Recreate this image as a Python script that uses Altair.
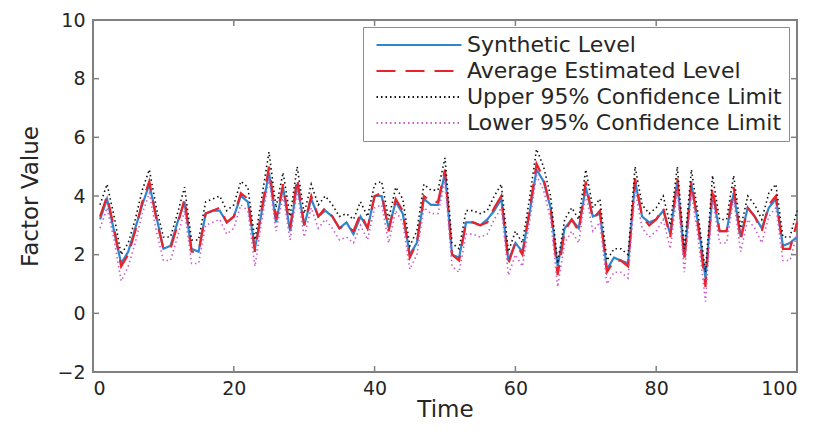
import altair as alt
import pandas as pd

time = list(range(1, 101))

synthetic = [3.2, 3.9, 2.8, 1.7, 2.1, 2.9, 3.7, 4.4, 3.3, 2.2,
             2.3, 3.1, 3.8, 2.2, 2.1, 3.4, 3.5, 3.5, 3.1, 3.3,
             4.0, 3.8, 2.2, 3.5, 4.8, 3.1, 4.3, 2.8, 4.4, 3.0,
             3.9, 3.3, 3.5, 3.3, 2.9, 3.1, 2.7, 3.3, 2.9, 4.0,
             4.0, 2.9, 3.8, 3.4, 2.0, 2.4, 3.9, 3.7, 3.7, 4.8,
             2.0, 1.9, 3.1, 3.1, 3.0, 3.2, 3.5, 3.9, 1.8, 2.4,
             2.1, 3.4, 4.9, 4.5, 3.6, 1.6, 2.9, 3.2, 2.9, 4.3,
             3.3, 3.4, 1.5, 1.9, 1.8, 1.7, 4.5, 3.3, 3.1, 3.2,
             3.5, 2.7, 4.5, 1.9, 4.4, 3.0, 1.2, 4.1, 2.8, 2.8,
             4.1, 2.6, 3.6, 3.3, 2.9, 3.6, 3.9, 2.3, 2.4, 2.6]

estimated = [3.3, 4.0, 2.9, 1.6, 2.0, 2.8, 3.8, 4.5, 3.2, 2.2,
             2.2, 3.0, 3.9, 2.1, 2.1, 3.4, 3.5, 3.6, 3.1, 3.3,
             4.1, 3.9, 2.1, 3.6, 5.0, 3.2, 4.4, 2.9, 4.6, 3.0,
             4.0, 3.3, 3.6, 3.3, 2.9, 3.0, 2.8, 3.4, 2.9, 4.0,
             4.1, 2.8, 3.9, 3.5, 1.9, 2.4, 4.0, 3.8, 3.8, 4.9,
             2.0, 1.8, 3.1, 3.1, 3.0, 3.1, 3.6, 4.0, 1.7, 2.4,
             2.0, 3.5, 5.1, 4.6, 3.6, 1.3, 2.8, 3.2, 2.8, 4.5,
             3.2, 3.5, 1.4, 1.8, 1.8, 1.6, 4.6, 3.3, 3.0, 3.2,
             3.6, 2.6, 4.6, 1.8, 4.5, 2.9, 0.9, 4.3, 2.8, 2.8,
             4.3, 2.5, 3.6, 3.3, 2.8, 3.7, 4.0, 2.2, 2.2, 3.1]

upper = [3.7, 4.4, 3.3, 2.0, 2.4, 3.2, 4.2, 4.9, 3.6, 2.6,
         2.6, 3.4, 4.3, 2.5, 2.5, 3.8, 3.9, 4.0, 3.5, 3.7,
         4.5, 4.3, 2.5, 4.0, 5.5, 3.6, 4.8, 3.3, 5.0, 3.4,
         4.4, 3.7, 4.0, 3.7, 3.3, 3.4, 3.2, 3.8, 3.3, 4.4,
         4.5, 3.2, 4.3, 3.9, 2.3, 2.8, 4.4, 4.2, 4.2, 5.3,
         2.4, 2.2, 3.5, 3.5, 3.4, 3.5, 4.0, 4.4, 2.1, 2.8,
         2.4, 3.9, 5.6, 5.0, 4.0, 1.7, 3.2, 3.6, 3.2, 4.9,
         3.6, 3.9, 1.8, 2.2, 2.2, 2.0, 5.0, 3.7, 3.4, 3.6,
         4.0, 3.0, 5.0, 2.2, 4.9, 3.3, 1.4, 4.7, 3.2, 3.2,
         4.7, 2.9, 4.0, 3.7, 3.2, 4.1, 4.4, 2.6, 2.6, 3.5]

lower = [2.9, 3.6, 2.5, 1.1, 1.6, 2.4, 3.4, 4.1, 2.8, 1.8,
         1.8, 2.6, 3.5, 1.7, 1.7, 3.0, 3.1, 3.2, 2.7, 2.9,
         3.7, 3.5, 1.6, 3.2, 4.6, 2.8, 4.0, 2.5, 4.2, 2.6,
         3.6, 2.9, 3.2, 2.9, 2.5, 2.6, 2.4, 3.0, 2.5, 3.6,
         3.7, 2.4, 3.5, 3.1, 1.5, 2.0, 3.6, 3.4, 3.4, 4.5,
         1.6, 1.4, 2.7, 2.7, 2.6, 2.7, 3.2, 3.6, 1.3, 2.0,
         1.6, 3.1, 4.7, 4.2, 3.2, 0.9, 2.4, 2.8, 2.4, 4.1,
         2.8, 3.1, 1.0, 1.4, 1.4, 1.2, 4.2, 2.9, 2.6, 2.8,
         3.2, 2.2, 4.2, 1.4, 4.1, 2.5, 0.4, 3.9, 2.4, 2.4,
         3.9, 2.1, 3.2, 2.9, 2.4, 3.3, 3.6, 1.8, 1.8, 2.7]

series_names = ["Synthetic Level", "Average Estimated Level",
                "Upper 95% Confidence Limit", "Lower 95% Confidence Limit"]
series_colors = ["#2f86cf", "#e8232b", "#111111", "#c95fc9"]
series_dash = [[1, 0], [19, 10], [1.5, 3], [1.5, 3]]
series_width = [2.2, 2.2, 1.6, 1.6]

x_ticks = [0, 20, 40, 60, 80, 100]
y_ticks = [-2, 0, 2, 4, 6, 8, 10]

rows = []
for name, vals in zip(series_names, [synthetic, estimated, upper, lower]):
    for t, v in zip(time, vals):
        rows.append({"Time": t, "Value": v, "Series": name})
df = pd.DataFrame(rows)
xt = pd.DataFrame({"tick": x_ticks})
yt = pd.DataFrame({"tick": y_ticks})

W, H = 704, 352
FONT = "DejaVu Sans"
TXT = "#262626"
FRAME = "#808080"
TL = 6  # tick length

xscale = alt.Scale(domain=[0, 100], nice=False, zero=False)
yscale = alt.Scale(domain=[-2, 10], nice=False, zero=False)
color_scale = alt.Scale(domain=series_names, range=series_colors)
dash_scale = alt.Scale(domain=series_names, range=series_dash)

legend = alt.Legend(
    title=None, orient="none", legendX=270, legendY=7,
    symbolType="M-5,0H5", symbolSize=289, symbolStrokeWidth=2,
    symbolOffset=38,
    labelFont=FONT, labelFontSize=22, labelColor=TXT, labelOffset=37,
    labelLimit=600, rowPadding=4, padding=7,
    fillColor="white", strokeColor="#8c8c8c",
)

main_x_axis = alt.Axis(values=x_ticks, ticks=False, domain=False, grid=False,
                       labelFont=FONT, labelFontSize=19, labelColor=TXT,
                       labelPadding=7, title="Time", titleFont=FONT,
                       titleFontSize=23, titleFontWeight="normal",
                       titleColor=TXT, titlePadding=0)
main_y_axis = alt.Axis(values=y_ticks, ticks=False, domain=False, grid=False,
                       labelFont=FONT, labelFontSize=19, labelColor=TXT,
                       labelPadding=8, title="Factor Value", titleFont=FONT,
                       titleFontSize=23, titleFontWeight="normal",
                       titleColor=TXT, titlePadding=14)

layers = []
for i, name in enumerate(series_names):
    layers.append(
        alt.Chart(df)
        .transform_filter(alt.datum.Series == name)
        .mark_line(strokeWidth=series_width[i])
        .encode(
            x=alt.X("Time:Q", scale=xscale, axis=main_x_axis),
            y=alt.Y("Value:Q", scale=yscale, axis=main_y_axis),
            color=alt.Color("Series:N", scale=color_scale, legend=legend),
            strokeDash=alt.StrokeDash("Series:N", scale=dash_scale, legend=legend),
        )
    )

tick_style = dict(color=FRAME, strokeWidth=1.5)
bottom_ticks = alt.Chart(xt).mark_rule(**tick_style).encode(
    x=alt.X("tick:Q", scale=xscale), y=alt.value(H), y2=alt.value(H - TL))
top_ticks = alt.Chart(xt).mark_rule(**tick_style).encode(
    x=alt.X("tick:Q", scale=xscale), y=alt.value(0), y2=alt.value(TL))
left_ticks = alt.Chart(yt).mark_rule(**tick_style).encode(
    y=alt.Y("tick:Q", scale=yscale), x=alt.value(0), x2=alt.value(TL))
right_ticks = alt.Chart(yt).mark_rule(**tick_style).encode(
    y=alt.Y("tick:Q", scale=yscale), x=alt.value(W), x2=alt.value(W - TL))

chart = (
    alt.layer(*layers, bottom_ticks, top_ticks, left_ticks, right_ticks)
    .properties(
        width=W, height=H,
        autosize=alt.AutoSizeParams(type="none"),
        padding={"left": 93, "top": 20, "right": 28, "bottom": 69},
        background="white",
    )
    .configure_view(stroke=FRAME, strokeWidth=2)
)

chart.save("out.html", embed_options={"renderer": "svg", "actions": False})
